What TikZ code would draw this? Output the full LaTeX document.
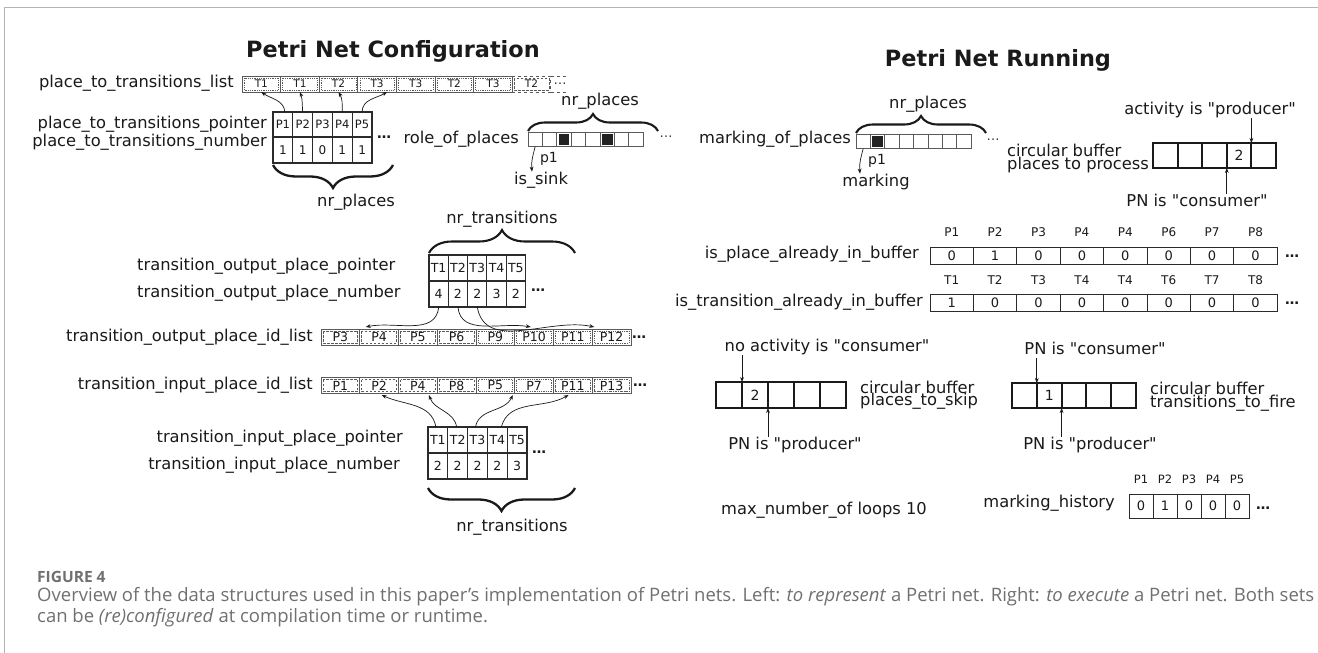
\documentclass[tikz,border=0pt]{standalone}
\usepackage{fontspec}
\setmainfont{DejaVu Sans}
% a second copy of the family without TeX ligatures keeps straight double quotes
\newfontfamily\plainsans{DejaVu Sans}
\newfontfamily\capfont{Open Sans}
\usetikzlibrary{arrows.meta,decorations.pathreplacing}

\definecolor{ink}{HTML}{1A1A1A}
\definecolor{rule}{HTML}{2B2B2B}
\definecolor{listrule}{HTML}{5A5A5A}
\definecolor{framegray}{HTML}{B4B4B4}
\definecolor{capgray}{HTML}{707070}
\definecolor{markfill}{HTML}{222222}

\newcommand{\fsz}[1]{\fontsize{#1pt}{#1pt}\selectfont}

\tikzset{
  lbl/.style={font=\fsz{16.3}, text=ink, inner sep=0pt, text height=12.4pt, text depth=3.9pt},
  qlbl/.style={font=\plainsans\fsz{16.3}, text=ink, inner sep=0pt, text height=12.4pt, text depth=3.9pt},
  twoline/.style={font={\fontsize{16.3pt}{12.7pt}\selectfont}, text=ink, inner sep=0pt, align=left, anchor=west},
  ttl/.style={font=\fsz{22.4}\bfseries, text=ink, inner sep=0pt},
  hdr/.style={font=\fsz{12}, text=ink, inner sep=0pt},
  more/.style={font=\fsz{14}\bfseries, text=ink, inner sep=0pt},
  faint/.style={font=\fsz{13}, text=ink!85, inner sep=0pt},
  small/.style={font=\fsz{14}, text=ink, inner sep=0pt},
  tcell/.style={draw=rule, line width=1.1pt, inner sep=0pt, outer sep=0pt, text=ink},
  lcell/.style={draw=listrule, line width=0.9pt, inner sep=0pt, outer sep=0pt, minimum height=16pt, text=ink},
  bcell/.style={draw=rule, line width=1pt, inner sep=0pt, outer sep=0pt, text=ink, font=\fsz{13}},
  ring/.style={draw=ink, line width=2pt, inner sep=0pt, outer sep=0pt, text=ink, font=\fsz{14}},
  sq/.style={draw=listrule, line width=0.8pt, inner sep=0pt, outer sep=0pt, minimum width=14.4pt, minimum height=14.4pt},
  ptr/.style={draw=ink, line width=0.7pt, -{Stealth[length=5pt,width=3.8pt]}},
  braceup/.style={draw=ink, line width=2.1pt, decorate, decoration={brace, amplitude=#1}},
  bracedown/.style={draw=ink, line width=2.3pt, decorate, decoration={brace, mirror, amplitude=#1}},
  dotin/.style={draw=listrule, line width=0.6pt, dash pattern=on 0.9pt off 0.9pt},
  dashin/.style={draw=listrule, line width=0.6pt, dash pattern=on 2.6pt off 1.4pt},
  dashdotin/.style={draw=listrule, line width=0.6pt, dash pattern=on 2.6pt off 1pt on 0.8pt off 1pt},
  caption/.style={anchor=base west, inner sep=0pt, text=capgray},
}

\begin{document}
\begin{tikzpicture}[x=1pt,y=-1pt]
\useasboundingbox (0,0) rectangle (1318,653);
\fill[white] (0,0) rectangle (1318,653);
\draw[framegray, line width=1pt] (4,653) -- (4,7) -- (1318,7);

% ================= configuration side =================
\node[ttl] (cfgtitle) at (393,51) {Petri Net Configuration};

% place -> transitions list
\node[lbl, anchor=east] (ptllab) at (234,83.5) {place\_to\_transitions\_list};
\foreach \lb [count=\i from 0] in {T1,T1,T2,T3,T3,T2,T3}{
  \node[lcell, minimum width=38.6pt, font=\fsz{10.5}] (ptl\i) at ({261.3+38.6*\i},84) {\lb};
  \draw[dotin] ([shift={(2pt,-2pt)}]ptl\i.north west) rectangle ([shift={(-2pt,2pt)}]ptl\i.south east);
}
\node[lcell, dashed, minimum width=38.6pt, font=\fsz{10.5}] (ptl7) at ({261.3+38.6*7},84) {T2};
\draw[dashin] ([shift={(2pt,-2pt)}]ptl7.north west) rectangle ([shift={(-2pt,2pt)}]ptl7.south east);
\coordinate (ptlend) at (568,84);
\draw[listrule, line width=0.9pt, dashed] (ptl7.north east) -- (ptl7.north east -| ptlend);
\draw[listrule, line width=0.9pt, dashed] (ptl7.south east) -- (ptl7.south east -| ptlend);
\node[faint] (ptlmore) at (560,84) {…};

% place -> transitions pointer / number
\node[lbl, anchor=east] (pptlab) at (267,124) {place\_to\_transitions\_pointer};
\node[lbl, anchor=east] (ppnlab) at (267,142.5) {place\_to\_transitions\_number};
\foreach \lb/\val [count=\i from 0] in {P1/1,P2/1,P3/0,P4/1,P5/1}{
  \node[tcell, minimum width=19.8pt, minimum height=25pt, font=\fsz{11.5}] (ppt\i) at ({282.9+19.8*\i},124.5) {\lb};
  \node[tcell, minimum width=19.8pt, minimum height=26pt, font=\fsz{12}] (ppn\i) at ({282.9+19.8*\i},150) {\val};
}
\node[more] (pptmore) at (384,137) {…};
\draw[ptr] ([xshift=2pt]ppt0.north) to[out=95,in=-35] (ptl0.south);
\draw[ptr] (ppt1.north) to[out=95,in=-70] (ptl1.south);
\draw[ptr] (ppt3.north) to[out=90,in=-60] (ptl2.south);
\draw[ptr] (ppt4.north) to[out=90,in=-150] ([xshift=10pt]ptl3.south);
\coordinate (pbL) at (273,165); \coordinate (pbR) at (393,165);
\draw[bracedown=23pt] (pbL) -- (pbR);
\node[lbl] (pnr) at (356,202) {nr\_places};

% role of places
\node[lbl, anchor=east] (rolelab) at (519,139) {role\_of\_places};
\foreach \i in {0,...,7}{
  \node[sq] (rp\i) at ({535.2+14.4*\i},139.5) {};
}
\foreach \i in {2,5}{
  \fill[markfill] ([shift={(1.8pt,-1.8pt)}]rp\i.north west) rectangle ([shift={(-1.8pt,1.8pt)}]rp\i.south east);
}
\coordinate (rbL) at (528,131); \coordinate (rbR) at (658,131);
\draw[braceup=17pt] (rbL) -- (rbR);
\node[lbl] (rolenr) at (600,101) {nr\_places};
\node[faint] (rolemore) at (666,137) {…};
\node[small] (rolep1) at (549,159) {p1};
\node[lbl] (sink) at (541,180) {is\_sink};
\draw[ptr] (rp0.south) to[out=-105,in=95] ([xshift=-9pt]sink.north);

% transition output pointer / number
\node[lbl, anchor=west] (toplab) at (137,266) {transition\_output\_place\_pointer};
\node[lbl, anchor=west] (tonlab) at (137,293) {transition\_output\_place\_number};
\foreach \lb/\val [count=\i from 0] in {T1/4,T2/2,T3/2,T4/3,T5/2}{
  \node[tcell, minimum width=19.3pt, minimum height=26pt, font=\fsz{12.5}] (top\i) at ({438.65+19.3*\i},268) {\lb};
  \node[tcell, minimum width=19.3pt, minimum height=26pt, font=\fsz{12.5}] (ton\i) at ({438.65+19.3*\i},294) {\val};
}
\node[more] (tonmore) at (538,290) {…};
\coordinate (obL) at (429,253); \coordinate (obR) at (575,253);
\draw[braceup=23pt] (obL) -- (obR);
\node[lbl] (onr) at (502,219) {nr\_transitions};

% transition output place id list
\node[lbl, anchor=east] (ollab) at (313,337) {transition\_output\_place\_id\_list};
\foreach \lb/\st [count=\i from 0] in {P3/dashin,P4/dashin,P5/dashin,P6/dashin,P9/dotin,P10/dotin,P11/dotin,P12/dotin}{
  \node[lcell, minimum width=38.75pt, font=\fsz{12.5}] (ol\i) at ({340.4+38.75*\i},337) {\lb};
  \draw[\st] ([shift={(2pt,-2pt)}]ol\i.north west) rectangle ([shift={(-2pt,2pt)}]ol\i.south east);
}
\node[more] (olmore) at (639,337) {…};
\draw[ptr] (ton0.south) to[out=-95,in=12] ([shift={(6pt,2pt)}]ol1.north west);
\draw[ptr] (ton1.south) to[out=-85,in=170] ([shift={(16pt,2pt)}]ol5.north west);
\draw[ptr] (ton2.south) to[out=-80,in=168] ([shift={(2pt,2pt)}]ol7.north west);

% transition input place id list
\node[lbl, anchor=east] (illab) at (313,385) {transition\_input\_place\_id\_list};
\foreach \lb/\st [count=\i from 0] in {P1/dashin,P2/dashin,P4/dashin,P8/dashin,P5/dotin,P7/dotin,P11/dashdotin,P13/dashdotin}{
  \node[lcell, minimum width=38.75pt, font=\fsz{12.5}] (il\i) at ({340.4+38.75*\i},385.5) {\lb};
  \draw[\st] ([shift={(2pt,-2pt)}]il\i.north west) rectangle ([shift={(-2pt,2pt)}]il\i.south east);
}
\node[more] (ilmore) at (640,385) {…};

% transition input pointer / number
\node[lbl, anchor=east] (tiplab) at (403,438) {transition\_input\_place\_pointer};
\node[lbl, anchor=east] (tinlab) at (400,465) {transition\_input\_place\_number};
\foreach \lb/\val [count=\i from 0] in {T1/2,T2/2,T3/2,T4/2,T5/3}{
  \node[tcell, minimum width=19.8pt, minimum height=26pt, font=\fsz{12.5}] (tip\i) at ({437.9+19.8*\i},440) {\lb};
  \node[tcell, minimum width=19.8pt, minimum height=26pt, font=\fsz{12.5}] (tin\i) at ({437.9+19.8*\i},466) {\val};
}
\node[more] (tinmore) at (539,452) {…};
\draw[ptr] ([xshift=-2pt]tip0.north) to[out=100,in=-25] ([shift={(2.5pt,-1.5pt)}]il1.south);
\draw[ptr] ([xshift=-1pt]tip1.north) to[out=100,in=-70] ([shift={(11pt,-1.5pt)}]il2.south);
\draw[ptr] ([xshift=-2pt]tip2.north) to[out=80,in=-115] ([shift={(-2pt,-1.5pt)}]il4.south east);
\draw[ptr] ([xshift=4pt]tip3.north) to[out=75,in=-150] ([shift={(15pt,-1.5pt)}]il6.south west);
\coordinate (ibL) at (428,488); \coordinate (ibR) at (575,488);
\draw[bracedown=23pt] (ibL) -- (ibR);
\node[lbl] (inr) at (512,527) {nr\_transitions};

% ================= running side =================
\node[ttl] (runtitle) at (998,60) {Petri Net Running};

% marking of places
\node[lbl, anchor=east] (marklab) at (851,139) {marking\_of\_places};
\foreach \i in {0,...,7}{
  \node[sq] (mp\i) at ({863.2+14.4*\i},141.5) {};
}
\fill[markfill] ([shift={(1.8pt,-1.8pt)}]mp1.north west) rectangle ([shift={(-1.8pt,1.8pt)}]mp1.south east);
\coordinate (mbL) at (856,133); \coordinate (mbR) at (986,133);
\draw[braceup=17pt] (mbL) -- (mbR);
\node[lbl] (marknr) at (928,104) {nr\_places};
\node[faint] (markmore) at (993,140) {…};
\node[small] (markp1) at (877,161) {p1};
\node[lbl] (markto) at (876,182) {marking};
\draw[ptr] (mp0.south) to[out=-105,in=95] ([xshift=-16pt]markto.north);

% circular buffer: places to process
\node[twoline] (cpname) at (1007,158.8) {circular buffer\\places to process};
\foreach \val [count=\i from 0] in {{},{},{},2,{}}{
  \node[ring, minimum width=24.6pt, minimum height=25pt] (cb\i) at ({1165.3+24.6*\i},155.5) {\val};
}
\node[qlbl] (actprod) at (1210,110) {activity is "producer"};
\node[qlbl] (pncons) at (1197,202) {PN is "consumer"};
\draw[ptr] (actprod.south -| cb3.north east) -- (cb3.north east);
\draw[ptr] (pncons.north -| cb2.south east) -- (cb2.south east);

% already-in-buffer flags
\node[lbl, anchor=east] (iplab) at (919,254) {is\_place\_already\_in\_buffer};
\foreach \hd/\val [count=\i from 0] in {P1/0,P2/1,P3/0,P4/0,P4/0,P6/0,P7/0,P8/0}{
  \node[bcell, minimum width=43.4pt, minimum height=17pt] (ip\i) at ({951.7+43.4*\i},255.5) {\val};
  \node[hdr] (iph\i) at ({951.7+43.4*\i},232) {\hd};
}
\node[more] (ipmore) at (1292,256) {…};
\node[lbl, anchor=east] (itlab) at (923,302) {is\_transition\_already\_in\_buffer};
\foreach \hd/\val [count=\i from 0] in {T1/1,T2/0,T3/0,T4/0,T4/0,T6/0,T7/0,T8/0}{
  \node[bcell, minimum width=43.4pt, minimum height=17pt] (it\i) at ({951.7+43.4*\i},302.5) {\val};
  \node[hdr] (ith\i) at ({951.7+43.4*\i},280) {\hd};
}
\node[more] (itmore) at (1292,303) {…};

% circular buffer: places to skip
\foreach \val [count=\i from 0] in {{},2,{},{},{}}{
  \node[ring, minimum width=26pt, minimum height=26pt] (sk\i) at ({729+26*\i},395) {\val};
}
\node[qlbl] (noact) at (827,347) {no activity is "consumer"};
\node[qlbl] (skprod) at (795,445) {PN is "producer"};
\draw[ptr] (noact.south -| sk0.north east) -- (sk0.north east);
\draw[ptr] (skprod.north -| sk1.south east) -- (sk1.south east);
\node[twoline] (skname) at (860,395.1) {circular buffer\\places\_to\_skip};

% circular buffer: transitions to fire
\foreach \val [count=\i from 0] in {{},1,{},{},{}}{
  \node[ring, minimum width=24.8pt, minimum height=25pt] (tf\i) at ({1024.4+24.8*\i},395.5) {\val};
}
\node[qlbl] (tfcons) at (1095,350) {PN is "consumer"};
\node[qlbl] (tfprod) at (1090,445) {PN is "producer"};
\draw[ptr] (tfcons.south -| tf0.north east) -- (tf0.north east);
\draw[ptr] (tfprod.north -| tf1.south east) -- (tf1.south east);
\node[twoline] (tfname) at (1150,396.4) {circular buffer\\transitions\_to\_fire};

% loop bound and marking history
\node[lbl] (maxloops) at (824,510) {max\_number\_of loops 10};
\node[lbl, anchor=east] (mhlab) at (1115,503.5) {marking\_history};
\foreach \hd/\val [count=\i from 0] in {P1/0,P2/1,P3/0,P4/0,P5/0}{
  \node[bcell, minimum width=24pt, minimum height=24pt] (mh\i) at ({1141+24*\i},506) {\val};
  \node[hdr, font=\fsz{11.5}] (mhh\i) at ({1141+24*\i},479.5) {\hd};
}
\node[more] (mhmore) at (1263,508) {…};

% ================= caption =================
\node[caption, font=\capfont\fsz{15.5}\bfseries] (figno) at (37,582) {FIGURE 4};
\node[caption, font=\capfont\fsz{18.5}] (capa) at (37,601.5) {Overview of the data structures used in this paper’s implementation of Petri nets. Left: \textit{to represent} a Petri net. Right: \textit{to execute} a Petri net. Both sets};
\node[caption, font=\capfont\fsz{18.5}] (capb) at (37,622.5) {can be \textit{(re)configured} at compilation time or runtime.};
\end{tikzpicture}
\end{document}
